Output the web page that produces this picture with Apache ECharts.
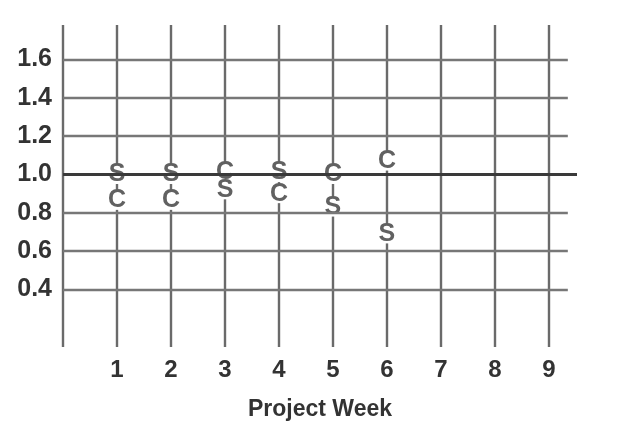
<!DOCTYPE html>
<html>
<head>
<meta charset="utf-8">
<script src="https://cdn.jsdelivr.net/npm/echarts@6/dist/echarts.min.js"></script>
<style>html,body{margin:0;padding:0;background:#fff}#c{width:626px;height:427px}</style>
</head>
<body>
<div id="c"></div>
<script>
const weeks = [1, 2, 3, 4, 5, 6];
const spiValues = [1.00, 1.00, 0.92, 1.01, 0.83, 0.69];
const cpiValues = [0.865, 0.865, 1.01, 0.90, 1.00, 1.07];
const weekTicks = [1, 2, 3, 4, 5, 6, 7, 8, 9];
const yTicks = [0.4, 0.6, 0.8, 1.0, 1.2, 1.4, 1.6];
const xAxisName = 'Project Week';

const FONT = "'Liberation Sans',Arial,sans-serif";
const gridEnd = 9.35, baseEnd = 9.52;

const hLines = yTicks.map(v => {
  const isBase = v === 1.0;
  return [
    {coord: [0, v], lineStyle: {color: isBase ? '#3a3a3a' : '#777', width: isBase ? 3 : 2.4, type: 'solid'}},
    {coord: [isBase ? baseEnd : gridEnd, v]}
  ];
});

function letterSeries(name, letter, vals, z) {
  return {
    name, type: 'scatter', z,
    symbol: 'rect',
    symbolSize: [20, 19],
    itemStyle: {color: '#fff', opacity: 1},
    data: weeks.map((w, i) => [w, vals[i]]),
    label: {
      show: true, position: 'inside', formatter: letter,
      fontFamily: FONT, fontWeight: 'bold', fontSize: 25, color: '#616161'
    },
    silent: true
  };
}

const chart = echarts.init(document.getElementById('c'));
chart.setOption({
  animation: false,
  grid: {left: 63, right: 49, top: 25, bottom: 80, containLabel: false, outerBoundsMode: 'none'},
  xAxis: {
    type: 'value', min: 0, max: baseEnd, interval: 1,
    axisLine: {show: false}, axisTick: {show: false},
    splitLine: {show: true, showMaxLine: false, lineStyle: {color: '#6a6a6a', width: 2.4}},
    axisLabel: {customValues: weekTicks, margin: 11, fontFamily: FONT, fontWeight: 'bold', fontSize: 24, color: '#333'},
    name: xAxisName, nameLocation: 'middle', nameGap: 51,
    nameTextStyle: {fontFamily: FONT, fontWeight: 'bold', fontSize: 23, color: '#333'}
  },
  yAxis: {
    type: 'value', min: 0.1, max: 1.78,
    axisLine: {show: false}, axisTick: {show: false}, splitLine: {show: false},
    axisLabel: {customValues: yTicks, margin: 11, fontFamily: FONT, fontWeight: 'bold', fontSize: 25, color: '#333',
      formatter: v => v.toFixed(1)}
  },
  series: [
    {
      type: 'line', data: [], z: 1, silent: true,
      markLine: {silent: true, symbol: 'none', label: {show: false}, animation: false, data: hLines}
    },
    letterSeries('CPI', 'C', cpiValues, 3),
    letterSeries('SPI', 'S', spiValues, 4)
  ]
});
</script>
</body>
</html>
